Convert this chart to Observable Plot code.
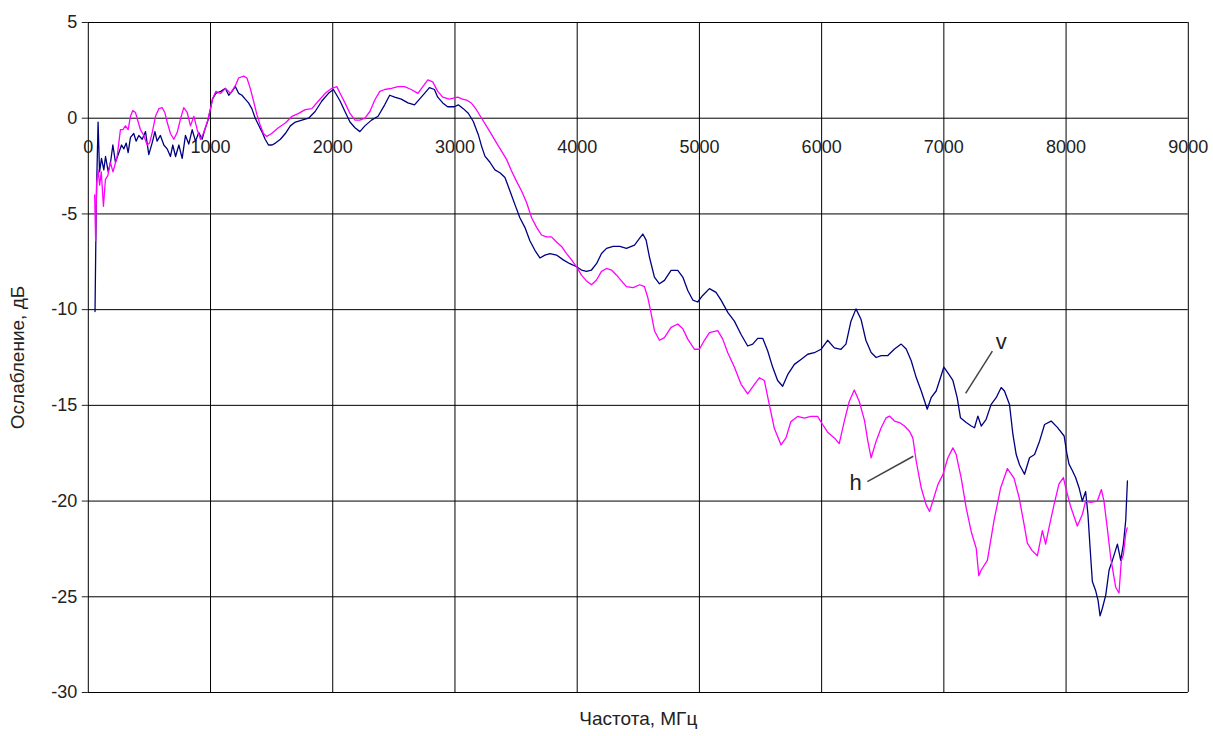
<!DOCTYPE html>
<html><head><meta charset="utf-8">
<script src="https://cdn.jsdelivr.net/npm/d3@7"></script>
<script src="https://cdn.jsdelivr.net/npm/@observablehq/plot@0.6"></script>
<style>body{margin:0;background:#fff}</style>
</head><body><div id="chart"></div>
<script>
const xTicks = [0,1000,2000,3000,4000,5000,6000,7000,8000,9000];
const yTicks = [-30,-25,-20,-15,-10,-5,0,5];
const xTitle = "Частота, МГц";
const yTitle = "Ослабление, дБ";

// series v (vertical polarization)
const vFreq = [55,65,80,92,108,127,141,163,182,201,222,250,272,291,310,326,345,372,391,413,441,468,495,522,545,563,590,618,645,672,691,714,741,768,795,822,850,877,904,931,953,980,1016,1043,1084,1122,1149,1176,1203,1230,1257,1284,1311,1338,1366,1393,1420,1447,1474,1504,1531,1572,1612,1653,1694,1748,1802,1856,1911,1965,2005,2033,2060,2100,2141,2182,2222,2263,2317,2371,2425,2466,2507,2561,2615,2669,2710,2751,2791,2832,2859,2900,2940,2995,3027,3068,3109,3150,3191,3218,3245,3286,3327,3368,3409,3450,3490,3531,3572,3613,3654,3695,3736,3777,3831,3886,3940,3995,4035,4076,4117,4158,4199,4240,4294,4349,4403,4469,4510,4537,4564,4591,4632,4673,4714,4768,4823,4864,4905,4946,4986,5027,5082,5136,5177,5232,5286,5341,5395,5436,5477,5518,5559,5599,5640,5681,5722,5777,5831,5886,5940,5995,6049,6104,6158,6199,6240,6281,6322,6362,6405,6446,6487,6542,6596,6651,6692,6733,6774,6815,6842,6864,6896,6937,6965,7000,7033,7074,7109,7136,7183,7224,7251,7278,7306,7346,7387,7428,7469,7496,7537,7565,7592,7619,7660,7701,7742,7783,7824,7878,7929,7984,8006,8024,8051,8078,8106,8133,8160,8179,8196,8215,8243,8262,8278,8297,8325,8352,8379,8420,8447,8469,8488,8502];
const vAtt = [-10.1,-4.5,-0.2,-2.8,-2.1,-2.7,-2.0,-2.8,-2.3,-1.4,-2.3,-1.8,-1.4,-1.6,-1.3,-1.8,-1.0,-0.8,-1.2,-0.9,-1.1,-0.7,-1.9,-1.3,-0.7,-1.2,-0.9,-1.4,-1.6,-2.0,-1.4,-2.0,-1.4,-2.1,-0.9,-1.35,-0.6,-1.2,-0.75,-1.1,-0.6,-0.1,1.0,1.3,1.4,1.56,1.2,1.4,1.65,1.3,1.2,1.0,0.8,0.5,0,-0.35,-0.7,-1.1,-1.4,-1.4,-1.3,-1.1,-0.8,-0.4,-0.2,-0.1,0,0.35,0.9,1.3,1.5,1.2,0.9,0.35,-0.2,-0.5,-0.7,-0.4,-0.1,0.1,0.7,1.2,1.1,1.0,0.8,0.7,1.0,1.3,1.6,1.5,1.1,0.8,0.6,0.6,0.7,0.5,0.26,-0.17,-0.86,-1.47,-1.98,-2.3,-2.7,-2.85,-3.1,-3.8,-4.5,-5.2,-5.7,-6.4,-6.9,-7.3,-7.15,-7.07,-7.15,-7.4,-7.6,-7.76,-7.93,-8.0,-7.93,-7.6,-7.07,-6.8,-6.7,-6.7,-6.8,-6.63,-6.28,-6.05,-6.37,-7.25,-8.3,-8.65,-8.47,-7.95,-7.95,-8.3,-9.0,-9.5,-9.6,-9.26,-8.9,-9.1,-9.5,-10.14,-10.6,-11.3,-11.9,-11.8,-11.5,-11.5,-12.16,-13.0,-13.7,-14.0,-13.4,-12.86,-12.6,-12.33,-12.25,-12.07,-11.6,-12.0,-12.07,-11.8,-10.6,-9.96,-10.5,-11.6,-12.24,-12.5,-12.4,-12.4,-12.06,-11.8,-12.06,-12.67,-13.55,-14.25,-14.77,-15.2,-14.6,-14.25,-13.7,-13.0,-13.3,-13.7,-14.6,-15.65,-15.9,-16.08,-16.17,-15.56,-16.08,-15.73,-14.95,-14.6,-14.07,-14.25,-14.95,-16.52,-17.57,-18.1,-18.6,-17.74,-17.57,-16.87,-16.0,-15.82,-16.15,-16.6,-17.5,-18.07,-18.4,-18.77,-19.3,-20.0,-19.5,-20.7,-22.4,-24.2,-24.7,-25.2,-26.0,-25.6,-24.9,-23.6,-23.1,-22.25,-23.1,-22.25,-21.0,-18.94];

// series h (horizontal polarization)
const hFreq = [52,60,68,80,93,106,124,140,160,180,202,236,263,283,304,326,345,364,386,408,427,454,482,501,523,550,577,604,626,645,672,700,727,754,781,809,836,864,891,918,945,973,1000,1016,1043,1084,1122,1163,1203,1230,1271,1298,1325,1352,1379,1406,1433,1460,1500,1555,1612,1667,1721,1775,1829,1883,1938,1992,2033,2060,2100,2141,2182,2222,2263,2304,2344,2385,2425,2480,2534,2588,2642,2697,2737,2778,2818,2859,2900,2954,3022,3062,3095,3136,3177,3218,3259,3300,3341,3381,3422,3463,3504,3545,3586,3627,3668,3708,3749,3790,3831,3872,3913,3954,3995,4035,4076,4117,4158,4199,4240,4281,4322,4362,4403,4458,4512,4550,4577,4605,4632,4673,4714,4768,4823,4864,4905,4959,5000,5041,5082,5150,5191,5232,5286,5341,5395,5450,5490,5531,5572,5613,5668,5708,5749,5804,5858,5913,5967,6008,6049,6104,6144,6185,6226,6267,6308,6351,6378,6405,6446,6487,6528,6555,6596,6637,6678,6719,6746,6774,6815,6855,6883,6910,6951,6992,7033,7074,7101,7142,7183,7224,7265,7286,7306,7356,7411,7465,7520,7574,7615,7656,7683,7724,7765,7806,7833,7860,7901,7942,7978,7997,8038,8092,8133,8160,8201,8256,8289,8310,8337,8365,8406,8433,8452,8469,8488,8500];
const hAtt = [-4.0,-6.4,-3.4,-2.7,-3.5,-2.8,-4.6,-3.2,-3.0,-2.3,-2.8,-2.0,-0.6,-0.6,-0.4,-0.6,0.1,0.4,0.3,-0.2,-0.6,-0.9,-1.4,-1.3,-0.75,0.1,0.5,0.55,0.3,-0.2,-0.8,-1.1,-0.75,-0.05,0.55,0.3,-0.4,0.1,-0.6,-1.1,-0.75,-0.2,0.5,1.0,1.4,1.3,1.56,1.3,1.7,2.1,2.2,2.1,1.56,0.9,0.2,-0.35,-0.8,-0.95,-0.8,-0.5,-0.25,0.1,0.25,0.45,0.5,0.9,1.3,1.56,1.65,1.3,0.8,0.25,-0.1,-0.1,0,0.35,0.95,1.4,1.5,1.56,1.65,1.65,1.5,1.3,1.65,2.0,1.9,1.4,1.1,1.0,1.1,1.0,0.95,0.78,0.43,0,-0.43,-0.86,-1.3,-1.72,-2.15,-2.76,-3.3,-3.8,-4.4,-5.2,-5.7,-6.1,-6.2,-6.2,-6.47,-6.7,-7.07,-7.4,-7.76,-8.2,-8.5,-8.7,-8.45,-8.0,-7.85,-7.93,-8.2,-8.5,-8.8,-8.85,-8.7,-8.8,-9.35,-10.2,-11.1,-11.6,-11.46,-10.93,-10.75,-11.0,-11.54,-12.07,-12.07,-11.6,-11.2,-11.1,-11.54,-12.25,-13.0,-13.9,-14.4,-13.9,-13.56,-13.7,-14.96,-16.2,-17.07,-16.7,-15.84,-15.58,-15.67,-15.58,-15.58,-16.0,-16.4,-16.7,-17.0,-15.84,-14.8,-14.2,-14.8,-15.8,-16.87,-17.74,-16.87,-16.17,-15.65,-15.56,-15.82,-15.9,-16.08,-16.35,-16.7,-17.92,-19.32,-20.2,-20.54,-20.0,-19.14,-18.62,-17.74,-17.22,-17.57,-18.8,-20.37,-21.6,-22.47,-23.9,-23.6,-23.1,-21.0,-19.3,-18.3,-18.8,-19.8,-21.2,-22.2,-22.6,-22.86,-21.55,-22.25,-21.4,-20.2,-19.1,-18.77,-19.3,-20.3,-21.3,-20.7,-20.0,-20.07,-20.0,-19.4,-20.0,-21.4,-22.95,-24.5,-24.8,-23.1,-22.8,-21.7,-21.4];

// series labels and their leader lines (data coordinates)
const labelText = ["v", "h"];
const labelFreq = [7470, 6278];
const labelAtt = [-11.7, -19.03];
const leaderFreq1 = [7178, 6374];
const leaderAtt1 = [-14.37, -18.98];
const leaderFreq2 = [7397, 6750];
const leaderAtt2 = [-12.17, -17.66];

const vData = vFreq.map((f, i) => ({f, a: vAtt[i]}));
const hData = hFreq.map((f, i) => ({f, a: hAtt[i]}));
const labels = labelText.map((t, i) => ({t, f: labelFreq[i], a: labelAtt[i], f1: leaderFreq1[i], a1: leaderAtt1[i], f2: leaderFreq2[i], a2: leaderAtt2[i]}));

const chart = Plot.plot({
  width: 1213,
  height: 736,
  marginLeft: 87.8,
  marginRight: 25.2,
  marginTop: 22,
  marginBottom: 44,
  style: {fontFamily: "Liberation Sans, Arial, sans-serif", fontSize: "18px", color: "#222", background: "#fff"},
  x: {domain: [0, 9000], axis: null},
  y: {domain: [-30, 5], ticks: yTicks, tickSize: 6, tickPadding: 5, label: null, tickFormat: d => String(d).replace("−", "-")},
  marks: [
    Plot.ruleX(xTicks, {x: d => d, stroke: "#000", strokeWidth: 1}),
    Plot.ruleY(yTicks, {y: d => d, stroke: "#000", strokeWidth: 1}),
    Plot.text(xTicks, {x: d => d, y: 0, dy: 29, text: d => String(d), fontSize: 18, fill: "#222"}),
    Plot.line(vData, {x: "f", y: "a", stroke: "#000080", strokeWidth: 1.3}),
    Plot.line(hData, {x: "f", y: "a", stroke: "#ff00ff", strokeWidth: 1.3}),
    Plot.link(labels, {x1: "f1", y1: "a1", x2: "f2", y2: "a2", stroke: "#444", strokeWidth: 1.5}),
    Plot.text(labels, {x: "f", y: "a", text: "t", fontSize: 22, fill: "#222"}),
    Plot.text([yTitle], {frameAnchor: "left", textAnchor: "middle", rotate: -90, dx: -70, fontSize: 19, fill: "#222"}),
    Plot.text([xTitle], {frameAnchor: "bottom", textAnchor: "middle", dy: 32, fontSize: 19, fill: "#222"})
  ]
});
document.getElementById("chart").appendChild(chart);
</script>
</body></html>
